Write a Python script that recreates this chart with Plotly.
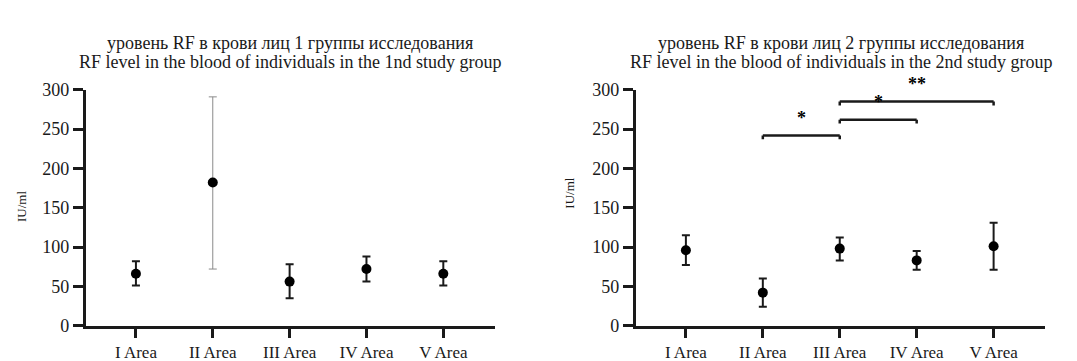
import plotly.graph_objects as go

categories = ["I Area", "II Area", "III Area", "IV Area", "V Area"]

# Group 1
g1_mean = [66, 182, 56, 72, 66]
g1_upper = [82, 291, 78, 88, 82]
g1_lower = [51, 72, 35, 56, 51]

# Group 2
g2_mean = [96, 42, 98, 83, 101]
g2_upper = [115, 60, 112, 95, 131]
g2_lower = [77, 24, 83, 71, 71]

# Significance brackets for group 2: (start cat index, end cat index, level, label)
br_start = [1, 2, 2]
br_end = [2, 3, 4]
br_level = [242, 262, 285]
br_label = ["*", "*", "**"]

yticks = [0, 50, 100, 150, 200, 250, 300]

title1 = ["уровень RF в крови лиц 1 группы исследования",
          "RF level in the blood of individuals in the 1nd study group"]
title2 = ["уровень RF в крови лиц 2 группы исследования",
          "RF level in the blood of individuals in the 2nd study group"]
ytitle = "IU/ml"

FONT = "Liberation Serif, Times New Roman, serif"
INK = "#1a1a1a"
W, H = 1077, 361

fig = go.Figure()

xs = list(range(len(categories)))


def add_points(means, up, lo, idx_list, xaxis, yaxis, color, thick, width):
    fig.add_trace(go.Scatter(
        x=[xs[i] for i in idx_list],
        y=[means[i] for i in idx_list],
        mode="markers",
        marker=dict(color="black", size=10),
        error_y=dict(type="data", symmetric=False,
                     array=[up[i] - means[i] for i in idx_list],
                     arrayminus=[means[i] - lo[i] for i in idx_list],
                     color=color, thickness=thick, width=width),
        xaxis=xaxis, yaxis=yaxis, showlegend=False, hoverinfo="skip",
    ))


# Left panel: II Area drawn with thin grey error bar
add_points(g1_mean, g1_upper, g1_lower, [0, 2, 3, 4], "x", "y", INK, 2, 4)
add_points(g1_mean, g1_upper, g1_lower, [1], "x", "y", "#8a8a8a", 1, 4)
# Right panel
add_points(g2_mean, g2_upper, g2_lower, [0, 1, 2, 3, 4], "x2", "y2", INK, 2, 4)

shapes = []
annotations = []
for s, e, lv, lab in zip(br_start, br_end, br_level, br_label):
    shapes.append(dict(type="line", xref="x2", yref="y2", x0=s, x1=e, y0=lv, y1=lv,
                       line=dict(color=INK, width=2.5)))
    shapes.append(dict(type="line", xref="x2", yref="y2", x0=s, x1=s, y0=lv, y1=lv - 5,
                       line=dict(color=INK, width=2.5)))
    shapes.append(dict(type="line", xref="x2", yref="y2", x0=e, x1=e, y0=lv, y1=lv - 5,
                       line=dict(color=INK, width=2.5)))
    annotations.append(dict(xref="x2", yref="y2", x=(s + e) / 2, y=lv + 7, text="<b>" + lab + "</b>",
                            showarrow=False, yanchor="bottom",
                            font=dict(family=FONT, size=18, color="black")))

dom_y = [0.0978, 0.7895]
doms = [[0.0724, 0.452], [0.583, 0.963]]
for dom, t in zip(doms, (title1, title2)):
    cx = (dom[0] + dom[1]) / 2
    annotations.append(dict(xref="paper", yref="paper", x=cx, y=1 - 26 / H, text=t[0],
                            showarrow=False, yanchor="middle", xanchor="center",
                            font=dict(family=FONT, size=18, color=INK)))
    annotations.append(dict(xref="paper", yref="paper", x=cx, y=1 - 47 / H, text=t[1],
                            showarrow=False, yanchor="middle", xanchor="center",
                            font=dict(family=FONT, size=18, color=INK)))

# y-axis titles placed as rotated annotations
for px, py in ((14, 199), (562, 186)):
    annotations.append(dict(xref="paper", yref="paper", x=px / W, y=1 - py / H, text=ytitle,
                            showarrow=False, textangle=-90, xanchor="center", yanchor="middle",
                            font=dict(family=FONT, size=13, color=INK)))

xaxis_common = dict(
    range=[-0.65, 4.67], tickmode="array", tickvals=xs, ticktext=categories,
    showline=True, linecolor=INK, linewidth=3, ticks="outside", ticklen=9,
    tickwidth=3, tickcolor=INK, showgrid=False, zeroline=False,
    tickfont=dict(family=FONT, size=17, color=INK),
)
yaxis_common = dict(
    range=[0, 300], tickmode="array", tickvals=yticks,
    showline=True, linecolor=INK, linewidth=3, ticks="outside", ticklen=10,
    tickwidth=3, tickcolor=INK, showgrid=False, zeroline=False,
    tickfont=dict(family=FONT, size=18, color=INK),
    domain=dom_y,
)

fig.update_layout(
    width=W, height=H,
    margin=dict(l=0, r=0, t=0, b=0),
    paper_bgcolor="white", plot_bgcolor="white",
    xaxis=dict(xaxis_common, domain=doms[0], anchor="y"),
    yaxis=dict(yaxis_common, anchor="x"),
    xaxis2=dict(xaxis_common, domain=doms[1], anchor="y2"),
    yaxis2=dict(yaxis_common, anchor="x2"),
    shapes=shapes, annotations=annotations,
)

fig.write_html("out.html")
